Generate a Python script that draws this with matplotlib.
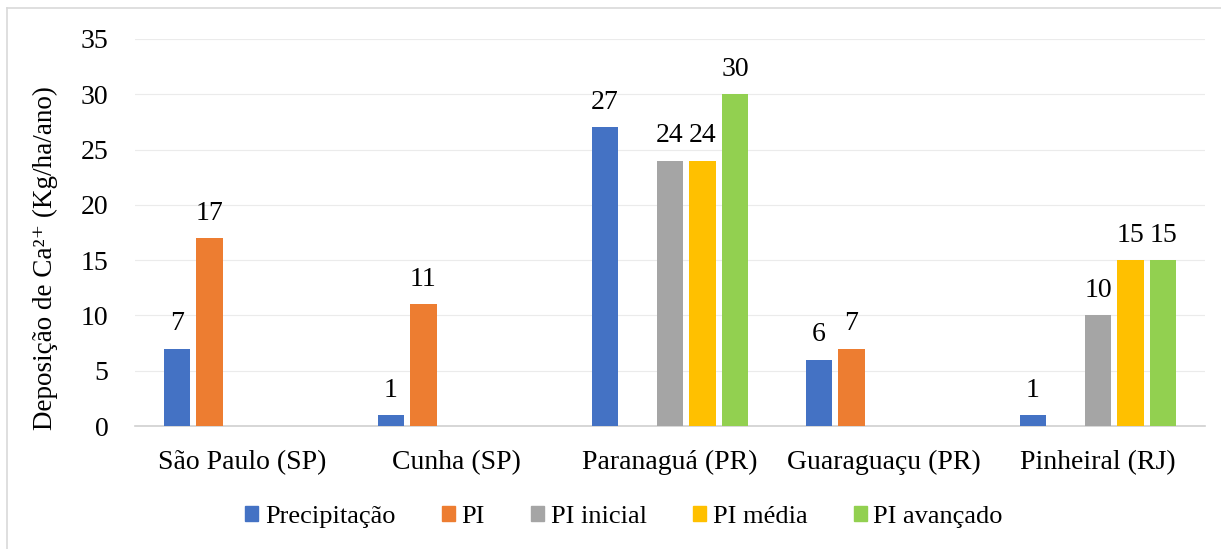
import numpy as np
import matplotlib
matplotlib.use("Agg")
from matplotlib import pyplot as plt
from matplotlib.lines import Line2D

plt.rcParams['font.family'] = ['Liberation Serif', 'DejaVu Serif']

# dados
locais = ['São Paulo (SP)', 'Cunha (SP)', 'Paranaguá (PR)', 'Guaraguaçu (PR)', 'Pinheiral (RJ)']
series = ['Precipitação', 'PI', 'PI inicial', 'PI média', 'PI avançado']
precipitacao = [7, 1, 27, 6, 1]
pi = [17, 11, None, 7, None]
pi_inicial = [None, None, 24, None, 10]
pi_media = [None, None, 24, None, 15]
pi_avancado = [None, None, 30, None, 15]
cores = ['#4472C4', '#ED7D31', '#A5A5A5', '#FFC000', '#92D050']

valores = [precipitacao, pi, pi_inicial, pi_media, pi_avancado]

fig = plt.figure(figsize=(12.21, 5.49), dpi=100)
ax = fig.add_axes([135 / 1221, 1 - 426 / 549, 1070 / 1221, 387 / 549])

x = np.arange(len(locais))
passo = 0.152
largura = 0.122
fs = 20
for i, (nome, vals, cor) in enumerate(zip(series, valores, cores)):
    pos = x + (i - 2) * passo
    for xp, v in zip(pos, vals):
        if v is None:
            continue
        ax.bar(xp, v, largura, color=cor, zorder=3)
        ax.text(xp, v + 1.1, str(v), ha='center', va='bottom', fontsize=fs)

ax.set_xlim(-0.5, len(locais) - 0.5)
ax.set_ylim(0, 35)
ax.set_yticks(range(0, 36, 5))
ax.yaxis.grid(True, color='#EBEBEB', lw=0.8, zorder=0)
ax.set_xticks(x)
ax.set_xticklabels(locais, fontsize=fs)
ax.tick_params(axis='y', labelsize=fs, length=0, pad=19)
ax.tick_params(axis='x', length=0, pad=17)
for s in ['top', 'right', 'left']:
    ax.spines[s].set_visible(False)
ax.spines['bottom'].set_color('#D0D0D0')
ax.spines['bottom'].set_linewidth(1.2)
ax.set_ylabel('Deposição de Ca²⁺ (Kg/ha/ano)', fontsize=19.5)
ax.yaxis.set_label_coords(-77 / 1070, 0.434)

handles = [plt.Rectangle((0, 0), 1, 1, color=c) for c in cores]
fig.legend(handles, series, loc='center', bbox_to_anchor=(624 / 1221, 1 - 517 / 549),
           ncol=5, frameon=False, fontsize=19, handlelength=0.5, handleheight=0.5,
           handletextpad=0.25, columnspacing=1.75)

# moldura
fig.add_artist(Line2D([7 / 1221, 7 / 1221], [0, 1 - 8 / 549], color='#D9D9D9', lw=1.2))
fig.add_artist(Line2D([7 / 1221, 1], [1 - 8 / 549, 1 - 8 / 549], color='#D9D9D9', lw=1.2))

fig.savefig('out.png', dpi=100)
